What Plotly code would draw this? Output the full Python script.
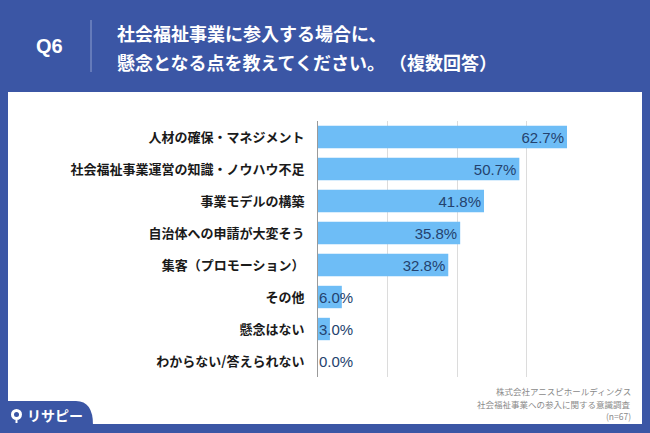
import plotly.graph_objects as go

categories = [
    "人材の確保・マネジメント",
    "社会福祉事業運営の知識・ノウハウ不足",
    "事業モデルの構築",
    "自治体への申請が大変そう",
    "集客（プロモーション）",
    "その他",
    "懸念はない",
    "わからない/答えられない",
]
values = [62.7, 50.7, 41.8, 35.8, 32.8, 6.0, 3.0, 0.0]
grid_ticks = [0, 17.5, 35, 52.5, 70]

W, H = 650, 433
L, R, T, B = 318, 54, 121, 56
PW, PH = W - L - R, H - T - B

def px(x):
    return (x - L) / PW

def py(y):
    return (H - B - y) / PH

FONT = "Noto Sans CJK JP"
NUMFONT = "Liberation Sans, Noto Sans CJK JP"
BLUE = "#3B56A5"
BAR = "#6EBDF6"
LABEL = "#24426E"

big = [v >= 20 for v in values]
fig = go.Figure(go.Bar(
    x=values, y=categories, orientation="h",
    marker=dict(color=BAR, line=dict(width=0)),
    text=[f"{v:.1f}%" if b else "" for v, b in zip(values, big)],
    textposition="inside", insidetextanchor="end",
    constraintext="none",
    textfont=dict(family=NUMFONT, size=15, color=LABEL),
    hoverinfo="skip",
))

annotations = []
for c, v, b in zip(categories, values, big):
    if not b:
        annotations.append(dict(x=0, y=c, xref="x", yref="y", xanchor="left",
                                text=f"{v:.1f}%", showarrow=False, xshift=-1,
                                font=dict(family=NUMFONT, size=15, color=LABEL)))

annotations += [
    dict(x=px(49), y=py(46), xref="paper", yref="paper", text="<b>Q6</b>",
         showarrow=False, xanchor="center", yanchor="middle",
         font=dict(family=NUMFONT, size=20, color="white")),
    dict(x=px(115), y=py(33), xref="paper", yref="paper",
         text="<b>社会福祉事業に参入する場合に、</b>",
         showarrow=False, xanchor="left", yanchor="middle",
         font=dict(family=FONT, size=18, color="white")),
    dict(x=px(115), y=py(62), xref="paper", yref="paper",
         text="<b>懸念となる点を教えてください。 （複数回答）</b>",
         showarrow=False, xanchor="left", yanchor="middle",
         font=dict(family=FONT, size=18, color="white")),
    dict(x=px(633), y=py(391), xref="paper", yref="paper",
         text="株式会社アニスピホールディングス", showarrow=False,
         xanchor="right", yanchor="middle",
         font=dict(family=FONT, size=8.5, color="#8a8a8a")),
    dict(x=px(633), y=py(404), xref="paper", yref="paper",
         text="社会福祉事業への参入に関する意識調査", showarrow=False,
         xanchor="right", yanchor="middle",
         font=dict(family=FONT, size=8.5, color="#8a8a8a")),
    dict(x=px(633), y=py(416), xref="paper", yref="paper",
         text="(n=67)", showarrow=False,
         xanchor="right", yanchor="middle",
         font=dict(family=FONT, size=8.5, color="#8a8a8a")),
    dict(x=px(25), y=py(415), xref="paper", yref="paper",
         text="<b>リサピー</b>", showarrow=False,
         xanchor="left", yanchor="middle",
         font=dict(family=FONT, size=14, color="white")),
]

shapes = [
    dict(type="rect", xref="paper", yref="paper", layer="below",
         x0=px(8), x1=px(642), y0=py(424), y1=py(92),
         fillcolor="white", line=dict(width=0)),
    dict(type="line", xref="paper", yref="paper",
         x0=px(91), x1=px(91), y0=py(20), y1=py(72),
         line=dict(color="#8f9fcf", width=1)),
    dict(type="path", xref="paper", yref="paper", layer="above",
         path=(f"M {px(0)},{py(401)} L {px(76)},{py(401)} "
               f"Q {px(93)},{py(401)} {px(93)},{py(425)} "
               f"L {px(0)},{py(425)} Z"),
         fillcolor=BLUE, line=dict(width=0)),
    dict(type="circle", xref="paper", yref="paper",
         x0=px(11), x1=px(22), y0=py(420), y1=py(409),
         fillcolor="white", line=dict(width=0)),
    dict(type="circle", xref="paper", yref="paper",
         x0=px(14), x1=px(19), y0=py(417), y1=py(412),
         fillcolor=BLUE, line=dict(width=0)),
    dict(type="line", xref="paper", yref="paper",
         x0=px(16.5), x1=px(16.5), y0=py(420), y1=py(423),
         line=dict(color="white", width=2)),
]

fig.update_layout(
    width=W, height=H,
    margin=dict(l=L, r=R, t=T, b=B, pad=0),
    paper_bgcolor=BLUE, plot_bgcolor="rgba(0,0,0,0)",
    bargap=0.3, showlegend=False,
    annotations=annotations, shapes=shapes,
    xaxis=dict(range=[0, 70], tickvals=grid_ticks, showticklabels=False,
               showgrid=True, gridcolor="#dcdcdc", gridwidth=1,
               zeroline=False, showline=False, fixedrange=True),
    yaxis=dict(autorange="reversed", showline=True, linecolor="#9a9a9a",
               linewidth=1, ticks="", ticklabelstandoff=10,
               tickfont=dict(family=FONT, size=13, color="#1a1a1a",
                             weight="bold"),
               showgrid=False, fixedrange=True),
    font=dict(family=FONT),
)

fig.write_html("out.html", config={"displayModeBar": False},
               post_script="document.body.style.margin='0';document.body.style.overflow='hidden';")
